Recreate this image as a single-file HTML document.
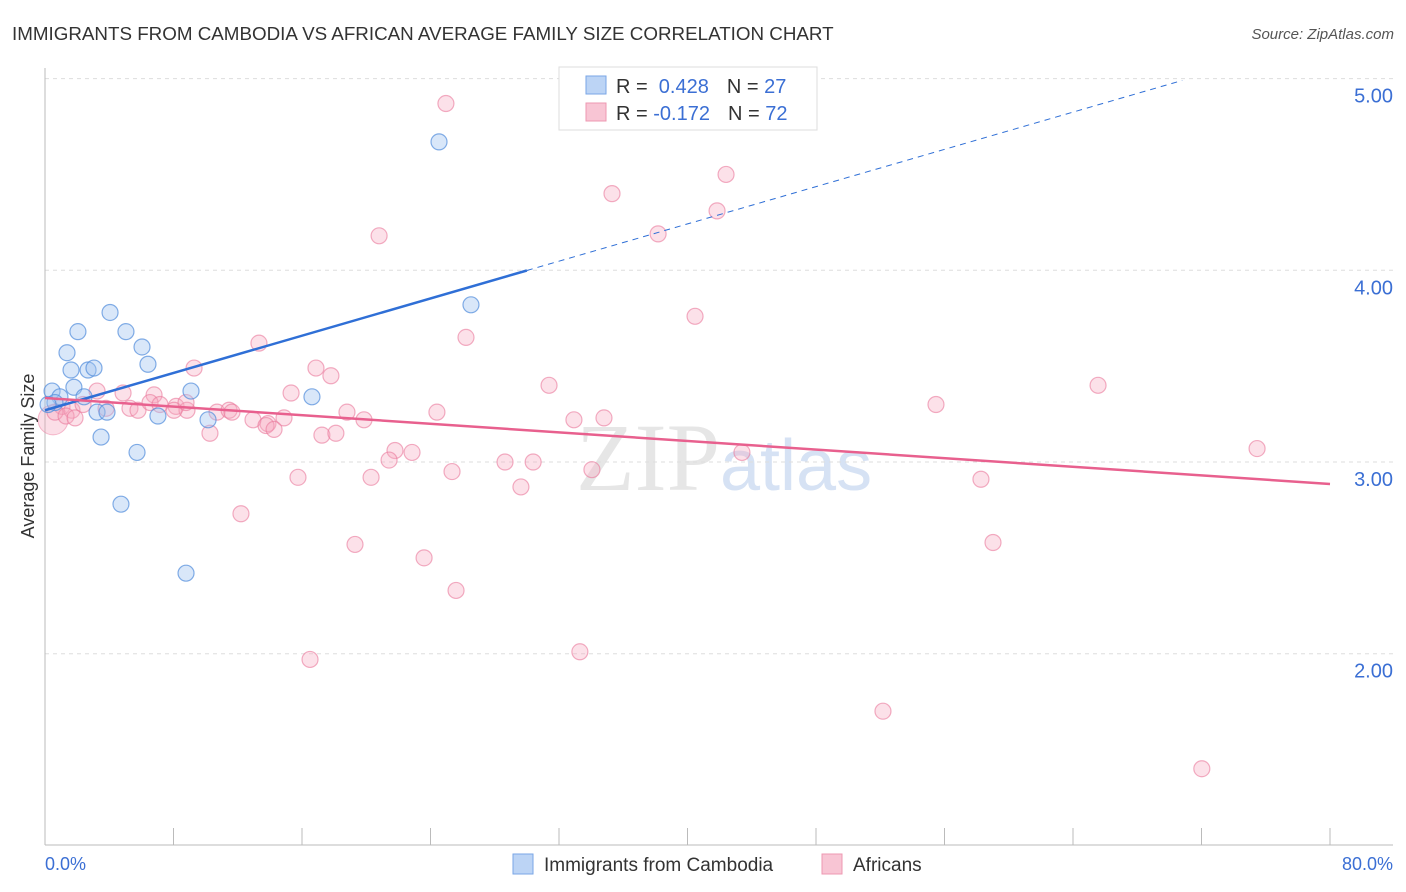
<!DOCTYPE html>
<html><head><meta charset="utf-8"><style>
body{margin:0;background:#fff;font-family:"Liberation Sans",sans-serif;}
svg{display:block}
</style></head><body>
<svg id="chart" width="1406" height="892">
<text x="12" y="40" font-size="18.8" fill="#333">IMMIGRANTS FROM CAMBODIA VS AFRICAN AVERAGE FAMILY SIZE CORRELATION CHART</text>
<text x="1394" y="39" font-size="15" fill="#555" font-style="italic" text-anchor="end">Source: ZipAtlas.com</text>
<text x="720" y="490" font-size="96" fill="#e6e6e6" text-anchor="end" font-family="Liberation Serif">ZIP</text>
<text x="720" y="490" font-size="72" fill="#d6e2f4">atlas</text>
<g id="grid"></g><g id="axes"></g><g id="marks"></g>
<text transform="translate(34,456) rotate(-90)" font-size="18" fill="#333" text-anchor="middle">Average Family Size</text>
<text x="45" y="870" font-size="18" fill="#3b6fd4">0.0%</text>
<text x="1393" y="870" font-size="18" fill="#3b6fd4" text-anchor="end">80.0%</text>
<g>
<rect x="559" y="67" width="258" height="63" fill="#fff" stroke="#ddd"/>
<rect x="586" y="76" width="20" height="18" fill="#bcd4f5" stroke="#7aa6e6"/>
<text x="616" y="93" font-size="20" fill="#333">R = <tspan fill="#3b6fd4">&#160;0.428</tspan><tspan dx="18">N = </tspan><tspan fill="#3b6fd4">27</tspan></text>
<rect x="586" y="103" width="20" height="18" fill="#f8c5d4" stroke="#ee98b2"/>
<text x="616" y="120" font-size="20" fill="#333">R = <tspan fill="#3b6fd4">-0.172</tspan><tspan dx="18">N = </tspan><tspan fill="#3b6fd4">72</tspan></text>
</g>
<g>
<rect x="513" y="854" width="20" height="20" fill="#bcd4f5" stroke="#7aa6e6"/>
<text x="544" y="871" font-size="19" fill="#333">Immigrants from Cambodia</text>
<rect x="822" y="854" width="20" height="20" fill="#f8c5d4" stroke="#ee98b2"/>
<text x="853" y="871" font-size="19" fill="#333">Africans</text>
</g>
</svg>
<script>
const yTicks=[2,3,4,5];
const blueX=[0.44,0.93,0.62,0.19,1.37,1.62,2.05,1.80,2.43,2.68,3.05,3.24,3.49,3.86,4.05,4.73,5.04,5.73,6.04,6.41,7.03,8.78,9.09,10.15,16.62,24.53,26.52];
const blueY=[3.37,3.34,3.31,3.30,3.57,3.48,3.68,3.39,3.34,3.48,3.49,3.26,3.13,3.26,3.78,2.78,3.68,3.05,3.60,3.51,3.24,2.42,3.37,3.22,3.34,4.67,3.82];
const pinkX=[24.96,42.40,35.30,41.84,20.80,38.17,40.47,13.32,26.21,9.28,16.87,17.80,31.38,65.56,3.24,4.86,6.79,15.32,55.47,1.06,1.68,2.37,3.80,5.29,5.79,6.54,7.16,8.16,8.84,8.03,10.71,11.46,11.64,8.78,18.80,24.40,34.80,32.93,12.95,13.88,14.88,19.86,13.76,14.26,10.27,17.24,18.11,21.79,22.85,21.42,28.64,30.39,43.39,75.46,15.75,20.30,25.34,34.05,58.27,29.63,12.20,19.30,59.02,23.60,25.59,33.30,16.50,52.17,72.02,0.62,1.31,1.87];
const pinkY=[4.87,4.50,4.40,4.31,4.18,4.19,3.76,3.62,3.65,3.49,3.49,3.45,3.40,3.40,3.37,3.36,3.35,3.36,3.30,3.29,3.27,3.30,3.28,3.28,3.27,3.31,3.30,3.29,3.27,3.27,3.26,3.27,3.26,3.31,3.26,3.26,3.23,3.22,3.22,3.20,3.23,3.22,3.19,3.17,3.15,3.14,3.15,3.06,3.05,3.01,3.00,3.00,3.05,3.07,2.92,2.92,2.95,2.96,2.91,2.87,2.73,2.57,2.58,2.50,2.33,2.01,1.97,1.70,1.40,3.26,3.24,3.23];
const NS="http://www.w3.org/2000/svg";
const X=p=>45+p*(1285/80), Y=v=>462-(v-3)*191.7;
function mk(t,a,parent){const e=document.createElementNS(NS,t);for(const k in a)e.setAttribute(k,a[k]);document.getElementById(parent).appendChild(e);return e;}
yTicks.forEach(v=>{
 const l=mk('line',{x1:45,x2:1393,y1:Y(v),y2:Y(v),stroke:'#ddd','stroke-dasharray':'4,4'},'grid');
 
 
 const t=mk('text',{x:1393,y:Y(v)+24,'font-size':20,fill:'#3b6fd4','text-anchor':'end'},'grid');t.textContent=v.toFixed(2);
 
 
});
mk('line',{x1:45,x2:45,y1:68,y2:845,stroke:'#bbb'},'axes');
mk('line',{x1:45,x2:1393,y1:845,y2:845,stroke:'#bbb'},'axes');
for(let i=0;i<=10;i++){const l=mk('line',{x1:X(i*8),x2:X(i*8),y1:828,y2:845,stroke:'#bbb'},'axes');
 
 }
const big=mk('circle',{cx:X(0.5),cy:Y(3.22),r:15,fill:'rgba(244,160,186,0.35)',stroke:'rgba(236,120,155,0.5)'},'marks');


pinkX.forEach((x,i)=>{const c=mk('circle',{cx:X(x),cy:Y(pinkY[i]),r:8,fill:'rgba(246,170,192,0.35)',stroke:'rgba(234,120,155,0.6)','stroke-width':1.2},'marks');
 
 });
blueX.forEach((x,i)=>{const c=mk('circle',{cx:X(x),cy:Y(blueY[i]),r:8,fill:'rgba(160,195,240,0.4)',stroke:'rgba(80,140,220,0.7)','stroke-width':1.2},'marks');
 
 });
const bs=0.0243, bi=3.27, ps=-0.00561, pi=3.334;
let l=mk('line',{x1:X(0),y1:Y(bi),x2:X(30),y2:Y(bi+bs*30),stroke:'#2f6fd6','stroke-width':2.5},'marks');


l=mk('line',{x1:X(30),y1:Y(bi+bs*30),x2:X(70.8),y2:Y(bi+bs*70.8),stroke:'#2f6fd6','stroke-width':1,'stroke-dasharray':'6,5'},'marks');


l=mk('line',{x1:X(0),y1:Y(pi),x2:X(80),y2:Y(pi+ps*80),stroke:'#e8608e','stroke-width':2.5},'marks');


</script>
</body></html>
